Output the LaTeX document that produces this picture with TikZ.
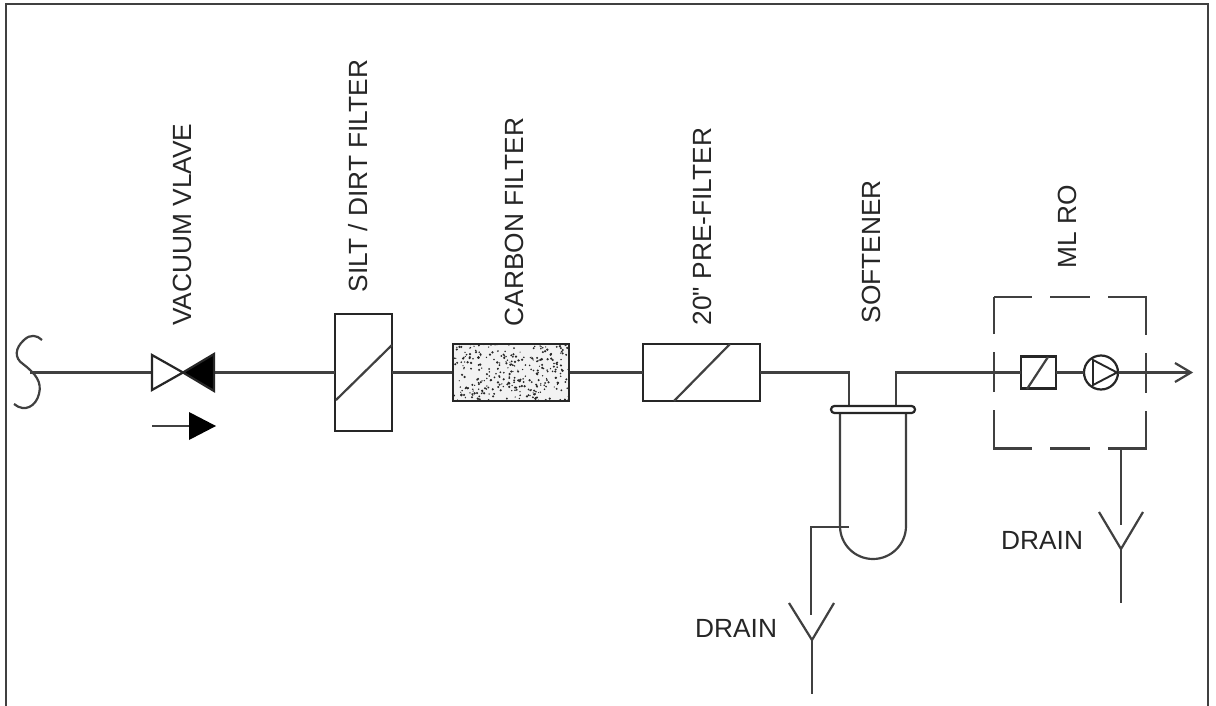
\documentclass[tikz,border=0pt]{standalone}
\usepackage{fontspec}
\setmainfont[Ligatures=TeXOff]{Liberation Sans}
\tikzset{
  x=1pt,y=-1pt,
  pipe/.style={line width=2.2pt,draw=black!75},
  sym/.style={line width=2.2pt,draw=black!85,fill=white,outer sep=0pt},
  lab/.style={font=\fontsize{26.3}{28}\selectfont,text=black!85,inner sep=0pt},
  vlab/.style={lab,rotate=90,anchor=base west},
  hlab/.style={lab,anchor=base west},
}
\begin{document}
\begin{tikzpicture}
\useasboundingbox (0,0) rectangle (1216,706);
\fill[white] (0,0) rectangle (1216,706);
\draw[line width=2.2pt,draw=black!75] (6,710) -- (6,4) -- (1208,4) -- (1208,710);
% coordinates
\coordinate (inlet) at (30,372.5);
\coordinate (vc) at (183,372.5);
\node[sym,minimum width=57pt,minimum height=117pt,inner sep=0pt] (silt) at (363.5,372.5) {};
\node[fill=black!5,outer sep=0pt,minimum width=116pt,minimum height=57pt,inner sep=0pt] (carbon) at (511,372.5) {};
\node[sym,minimum width=117pt,minimum height=57pt,inner sep=0pt] (pre) at (701.5,372.5) {};
\node[sym,minimum width=35pt,minimum height=32pt,inner sep=0pt] (ro) at (1038.5,372.5) {};
\node[sym,circle,minimum size=34pt,inner sep=0pt] (pump) at (1101,372.5) {};
\coordinate (vl) at (152,372.5);
\coordinate (vr) at (214,372.5);
\coordinate (sl) at (849,372.5);
\coordinate (sl2) at (849,406);
\coordinate (sr) at (896,372.5);
\coordinate (sr2) at (896,406);
\coordinate (out) at (1191,372.5);
% pipes
\draw[pipe] (inlet) -- (vl);
\draw[pipe] (vr) -- (silt.west);
\draw[pipe] (silt.east) -- (carbon.west);
\draw[pipe] (carbon.east) -- (pre.west);
\draw[pipe] (pre.east) -- (sl) -- (sl2);
\draw[pipe] (sr2) -- (sr) -- (ro.west);
\draw[pipe] (ro.east) -- (pump.west);
\draw[pipe] (pump.east) -- (out);
\draw[pipe] (1175,363) -- (out) -- (1175,382);
% inlet curve
\draw[pipe] (42,340) .. controls (37,335) and (30,334) .. (24,340)
  .. controls (15,348) and (14,358) .. (23,364)
  .. controls (36,374) and (42,382) .. (39,394)
  .. controls (36,406) and (25,413) .. (14,404);
% valve
\draw[sym] (152,355) -- (vc) -- (152,390) -- cycle;
\draw[sym,fill=black] (214,354) -- (vc) -- (214,391) -- cycle;
% flow arrow
\coordinate (fa) at (152,426);
\coordinate (fb) at (189,426);
\draw[pipe] (fa) -- (fb);
\fill[black] (189,412) -- (216,426) -- (189,440) -- cycle;
% filter slashes
\draw[pipe] (336,400) -- (392,345);
\draw[pipe] (674,401) -- (730,344);
\draw[pipe] (1027,389) -- (1048,357);
% carbon dots
\pgfmathsetseed{4711}
\begin{scope}
\clip (453,344) rectangle (569,401);
\foreach \i in {1,...,330}{
  \pgfmathsetmacro{\dx}{453+116*rnd}
  \pgfmathsetmacro{\dy}{344+57*rnd}
  \pgfmathsetmacro{\dr}{0.6+0.7*rnd}
  \fill[black!85] (\dx,\dy) circle[radius=\dr];
}
\end{scope}
\draw[line width=2.2pt,draw=black!85] (carbon.south west) rectangle (carbon.north east);
% pump triangle
\draw[line width=1.9pt,draw=black!85] (1093,360) -- (1117,372.5) -- (1093,385) -- cycle;
% softener
\draw[pipe,fill=white] (840,413) -- (840,526) arc[start angle=180,end angle=0,radius=33] -- (906,413);
\draw[sym,rounded corners=3.4pt] (831,406) rectangle (915,413);
% softener drain
\coordinate (d1) at (849,527);
\coordinate (d2) at (811,527);
\coordinate (d3) at (811,615);
\coordinate (y1) at (789,603);
\coordinate (y2) at (812,640);
\coordinate (y3) at (834,603);
\coordinate (y4) at (812,694);
\draw[pipe] (d1) -- (d2) -- (d3);
\draw[pipe] (y1) -- (y2) -- (y3);
\draw[pipe] (y2) -- (y4);
\node[hlab] (drainA) at (695,637) {DRAIN};
% ML RO dashed box
\draw[pipe,dash pattern=on 76pt off 18pt on 40pt off 18pt,dash phase=38pt] (994,297) -- (1146,297) -- (1146,448.5) -- (994,448.5) -- cycle;
\coordinate (e1) at (1121,448);
\coordinate (e2) at (1121,525);
\coordinate (z1) at (1099,512);
\coordinate (z2) at (1121,549);
\coordinate (z3) at (1143,512);
\coordinate (z4) at (1121,603);
\draw[pipe] (e1) -- (e2);
\draw[pipe] (z1) -- (z2) -- (z3);
\draw[pipe] (z2) -- (z4);
\node[hlab] (drainB) at (1001,549) {DRAIN};
% labels
\node[vlab] (lv) at (191,326) {VACUUM VLAVE};
\node[vlab] (ls) at (367.5,292.5) {SILT / DIRT FILTER};
\node[vlab] (lc) at (523,326.5) {CARBON FILTER};
\node[vlab] (lp) at (711,325.5) {20" PRE-FILTER};
\node[vlab] (lf) at (880.5,323.5) {SOFTENER};
\node[vlab] (lm) at (1076,268.5) {ML RO};
\end{tikzpicture}
\end{document}
